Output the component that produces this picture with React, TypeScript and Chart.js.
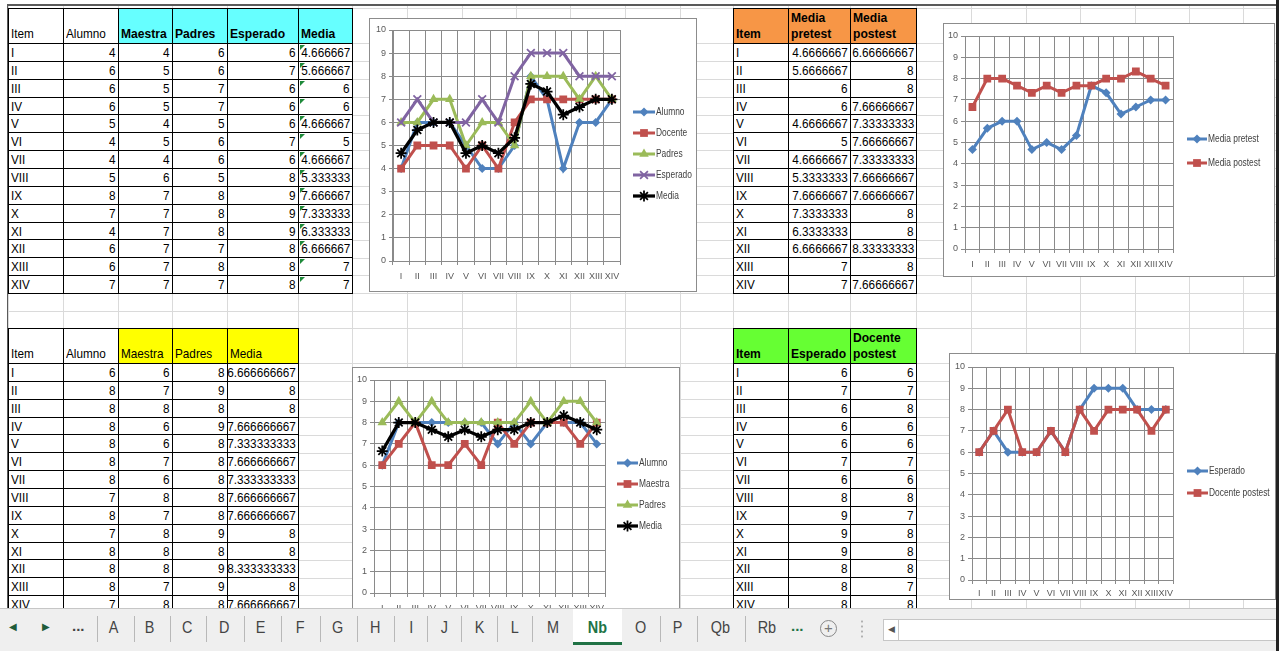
import React, { useEffect, useRef } from 'react';
import { Chart, registerables } from 'chart.js';
Chart.register(...registerables);

// ---------------- DATA ----------------
const items = ['I', 'II', 'III', 'IV', 'V', 'VI', 'VII', 'VIII', 'IX', 'X', 'XI', 'XII', 'XIII', 'XIV'];
const yMin = 0;
const yMax = 10;
const yStep = 1;

// Table 1 (top left) / chart 1
const alumnoA = [4, 6, 6, 6, 5, 4, 4, 5, 8, 7, 4, 6, 6, 7];
const maestraA = [4, 5, 5, 5, 4, 5, 4, 6, 7, 7, 7, 7, 7, 7];
const padresA = [6, 6, 7, 7, 5, 6, 6, 5, 8, 8, 8, 7, 8, 7];
const esperadoA = [6, 7, 6, 6, 6, 7, 6, 8, 9, 9, 9, 8, 8, 8];
const mediaPretest = [4.666666667, 5.666666667, 6, 6, 4.666666667, 5, 4.666666667, 5.333333333, 7.666666667, 7.333333333, 6.333333333, 6.666666667, 7, 7];

// Table 2 (top right) / chart 2
const mediaPostest = [6.666666667, 8, 8, 7.666666667, 7.333333333, 7.666666667, 7.333333333, 7.666666667, 7.666666667, 8, 8, 8.333333333, 8, 7.666666667];

// Table 3 (bottom left) / chart 3
const alumnoB = [6, 8, 8, 8, 8, 8, 8, 7, 8, 7, 8, 8, 8, 7];
const maestraB = [6, 7, 8, 6, 6, 7, 6, 8, 7, 8, 8, 8, 7, 8];
const padresB = [8, 9, 8, 9, 8, 8, 8, 8, 8, 9, 8, 9, 9, 8];
const mediaB = [6.666666667, 8, 8, 7.666666667, 7.333333333, 7.666666667, 7.333333333, 7.666666667, 7.666666667, 8, 8, 8.333333333, 8, 7.666666667];

// Table 4 (bottom right) / chart 4
const esperadoC = [6, 7, 6, 6, 6, 7, 6, 8, 9, 9, 9, 8, 8, 8];
const docentePostest = [6, 7, 8, 6, 6, 7, 6, 8, 7, 8, 8, 8, 7, 8];

// Sheet tabs
const sheetTabs = ['A', 'B', 'C', 'D', 'E', 'F', 'G', 'H', 'I', 'J', 'K', 'L', 'M', 'Nb', 'O', 'P', 'Qb', 'Rb'];
const activeTab = 'Nb';

// ---------------- STYLE ----------------
const BLUE = '#4F81BD';
const RED = '#C0504D';
const GREEN = '#9BBB59';
const PURPLE = '#8064A2';
const BLACK = '#000000';
const FONT = '"Liberation Sans", Arial, sans-serif';
const SQUEEZE = 0.87;

const fmt = (n: number, d: number) => (Number.isInteger(n) ? String(n) : n.toFixed(d));

// layout helpers
const ROW_H = 17.86;
const colLines = [8, 63, 118, 172, 227, 298, 352, 407, 462, 516, 570, 625, 680, 733, 788, 850, 916, 971, 1026, 1080, 1135, 1189, 1243];
const rowLines: number[] = [8];
for (let k = 0; k <= 15; k++) rowLines.push(43.3 + k * ROW_H);
rowLines.push(328);
for (let k = 0; k <= 14; k++) rowLines.push(363.3 + k * ROW_H);

type Pt = 'rectRot' | 'rect' | 'triangle' | 'crossRot' | 'star';
interface Series { label: string; data: number[]; color: string; style: Pt; radius: number; width: number; }

function drawMarker(ctx: CanvasRenderingContext2D, style: Pt, x: number, y: number, r: number, color: string) {
  ctx.save();
  ctx.fillStyle = color;
  ctx.strokeStyle = color;
  ctx.lineWidth = 1.75;
  ctx.beginPath();
  if (style === 'rectRot') {
    ctx.moveTo(x - r, y); ctx.lineTo(x, y - r); ctx.lineTo(x + r, y); ctx.lineTo(x, y + r); ctx.closePath(); ctx.fill();
  } else if (style === 'rect') {
    const s = r * Math.SQRT1_2; ctx.rect(x - s, y - s, 2 * s, 2 * s); ctx.fill();
  } else if (style === 'triangle') {
    let a = 0;
    ctx.moveTo(x + Math.sin(a) * r, y - Math.cos(a) * r);
    a += (2 * Math.PI) / 3; ctx.lineTo(x + Math.sin(a) * r, y - Math.cos(a) * r);
    a += (2 * Math.PI) / 3; ctx.lineTo(x + Math.sin(a) * r, y - Math.cos(a) * r);
    ctx.closePath(); ctx.fill();
  } else {
    const s = r * Math.SQRT1_2;
    ctx.moveTo(x - s, y - s); ctx.lineTo(x + s, y + s);
    ctx.moveTo(x - s, y + s); ctx.lineTo(x + s, y - s);
    if (style === 'star') { ctx.moveTo(x, y - r); ctx.lineTo(x, y + r); }
    ctx.stroke();
  }
  ctx.restore();
}

interface ChartProps {
  left: number; top: number; cw: number; ch: number;
  area: { l: number; t: number; r: number; b: number };
  legend: { x: number; y: number; gap: number; lineW: number };
  series: Series[];
  xPad: number;
}

function LineChart({ left, top, cw, ch, area, legend, series, xPad }: ChartProps) {
  const ref = useRef<HTMLCanvasElement>(null);
  useEffect(() => {
    const legendPlugin = {
      id: 'excelLegend',
      afterDraw(chart: any) {
        const ctx = chart.ctx as CanvasRenderingContext2D;
        series.forEach((s, i) => {
          const y = legend.y + i * legend.gap;
          ctx.save();
          ctx.strokeStyle = s.color;
          ctx.lineWidth = s.width;
          ctx.beginPath();
          ctx.moveTo(legend.x, y);
          ctx.lineTo(legend.x + legend.lineW, y);
          ctx.stroke();
          ctx.restore();
          drawMarker(ctx, s.style, legend.x + legend.lineW / 2, y, s.radius, s.color);
          ctx.save();
          ctx.fillStyle = '#404040';
          ctx.font = `10.5px ${FONT}`;
          ctx.textBaseline = 'middle';
          ctx.translate(legend.x + legend.lineW + 1, y);
          ctx.scale(0.8, 1);
          ctx.fillText(s.label, 0, 0);
          ctx.restore();
        });
      },
    };
    const n = series.length;
    const chart = new Chart(ref.current as HTMLCanvasElement, {
      type: 'line',
      data: {
        labels: items,
        datasets: series.map((s, i) => ({
          label: s.label,
          data: s.data,
          borderColor: s.color,
          backgroundColor: s.color,
          borderWidth: s.width,
          pointStyle: s.style,
          pointRadius: s.radius,
          pointBorderWidth: s.style === 'crossRot' || s.style === 'star' ? 1.75 : 0,
          pointBorderColor: s.color,
          pointBackgroundColor: s.color,
          tension: 0,
          order: n - i,
        })),
      },
      options: {
        animation: false,
        responsive: false,
        maintainAspectRatio: false,
        layout: { padding: { left: 0, top: area.t, right: cw - area.r, bottom: 0 } },
        plugins: { legend: { display: false }, tooltip: { enabled: false } },
        scales: {
          x: {
            offset: true,
            grid: { offset: true, color: '#8a8a8a', lineWidth: 1, tickLength: 4, drawTicks: true },
            border: { color: '#8a8a8a' },
            ticks: { color: '#595959', font: { family: FONT, size: 9 }, padding: xPad, maxRotation: 0, autoSkip: false },
            afterFit: (s: any) => { s.height = ch - area.b; },
          },
          y: {
            min: yMin,
            max: yMax,
            grid: { color: '#8a8a8a', lineWidth: 1, tickLength: 4, drawTicks: true },
            border: { color: '#8a8a8a' },
            ticks: { stepSize: yStep, color: '#595959', font: { family: FONT, size: 9 }, padding: 3 },
            afterFit: (s: any) => { s.width = area.l; },
          },
        },
      },
      plugins: [legendPlugin],
    } as any);
    return () => chart.destroy();
  }, []);
  return (
    <div style={{ position: 'absolute', left, top, width: cw, height: ch, border: '1px solid #8c8c8c', background: '#fff', overflow: 'hidden' }}>
      <canvas ref={ref} width={cw} height={ch} style={{ display: 'block', width: cw, height: ch }} />
    </div>
  );
}

interface ColDef { w: number; head: string[]; bg?: string; bold?: boolean; }

function Sq({ children, origin }: { children: React.ReactNode; origin: string }) {
  return <span style={{ display: 'inline-block', transform: `scaleX(${SQUEEZE})`, transformOrigin: origin, whiteSpace: 'nowrap' }}>{children}</span>;
}

function SheetTable({ x, y, headH, cols, rows, tri }: { x: number; y: number; headH: number; cols: ColDef[]; rows: string[][]; tri?: number }) {
  const xs: number[] = [x];
  cols.forEach((c) => xs.push(xs[xs.length - 1] + c.w));
  const cells: React.ReactNode[] = [];
  cols.forEach((c, ci) => {
    cells.push(
      <div key={'h' + ci} style={{
        position: 'absolute', left: xs[ci], top: y, width: c.w + 1, height: headH + 1, boxSizing: 'border-box',
        border: '1px solid #000', background: c.bg || '#fff', display: 'flex', flexDirection: 'column', justifyContent: 'flex-end', alignItems: 'flex-start',
        padding: '0 0 1px 2px', font: c.bold ? `bold 13px ${FONT}` : `13.5px ${FONT}`, lineHeight: '16px', color: '#000', whiteSpace: 'nowrap', overflow: 'hidden',
      }}>
        {c.head.map((h, i) => (
          <div key={i} style={{ transform: `scaleX(${c.bold ? 0.93 : SQUEEZE})`, transformOrigin: 'left center' }}>{h}</div>
        ))}
      </div>
    );
  });
  rows.forEach((r, ri) => {
    const t0 = Math.round(y + headH + ri * ROW_H);
    const t1 = Math.round(y + headH + (ri + 1) * ROW_H);
    r.forEach((v, ci) => {
      cells.push(
        <div key={ri + '-' + ci} style={{
          position: 'absolute', left: xs[ci], top: t0, width: cols[ci].w + 1, height: t1 - t0 + 1, boxSizing: 'border-box',
          border: '1px solid #000', background: '#fff', display: 'flex', alignItems: 'center', justifyContent: ci === 0 ? 'flex-start' : 'flex-end',
          padding: '0 2px 0 2px', font: `13.5px ${FONT}`, color: '#000', whiteSpace: 'nowrap', overflow: 'hidden',
        }}>
          {tri === ci && <div style={{ position: 'absolute', left: 1, top: 1, width: 0, height: 0, borderTop: '5px solid #1e8a3a', borderRight: '5px solid transparent' }} />}
          <Sq origin={ci === 0 ? 'left center' : 'right center'}>{v}</Sq>
        </div>
      );
    });
  });
  return <>{cells}</>;
}

function TabBar() {
  const centers = [114, 150, 187, 224, 261, 300, 338, 375, 411, 444, 480, 515, 553, 597, 641, 678, 720, 767];
  const seps = [97, 134, 170, 206, 244, 281, 320, 357, 394, 427, 461, 497, 532, 660, 697, 745];
  return (
    <div style={{ position: 'absolute', left: 0, top: 608, width: 1279, height: 43, background: '#efefef', borderTop: '1px solid #c6c6c6', boxSizing: 'border-box', zIndex: 5, font: `17px ${FONT}`, color: '#444' }}>
      <div style={{ position: 'absolute', left: 573, top: 0, width: 49, height: 33, background: '#fff', borderBottom: '3px solid #217346' }} />
      <div style={{ position: 'absolute', left: 9, top: 12, fontSize: 10, color: '#1f5c3a' }}>◀</div>
      <div style={{ position: 'absolute', left: 42, top: 12, fontSize: 10, color: '#1f5c3a' }}>▶</div>
      <div style={{ position: 'absolute', left: 72, top: 8, fontWeight: 'bold', fontSize: 15, color: '#444' }}>...</div>
      {seps.map((s, i) => <div key={'s' + i} style={{ position: 'absolute', left: s, top: 7, width: 1, height: 26, background: '#b8b8b8' }} />)}
      {sheetTabs.map((t, i) => (
        <div key={t} style={{ position: 'absolute', left: centers[i] - 20, width: 40, top: 9, textAlign: 'center', lineHeight: '20px',
          fontWeight: t === activeTab ? 'bold' : 'normal', color: t === activeTab ? '#217346' : '#444' }}>
          <span style={{ display: 'inline-block', transform: 'scaleX(0.85)' }}>{t}</span>
        </div>
      ))}
      <div style={{ position: 'absolute', left: 791, top: 8, fontWeight: 'bold', fontSize: 15, color: '#217346' }}>...</div>
      <div style={{ position: 'absolute', left: 820, top: 11, width: 17, height: 17, borderRadius: '50%', border: '1.5px solid #888', boxSizing: 'border-box', color: '#777', fontSize: 15, lineHeight: '14px', textAlign: 'center' }}>+</div>
      <div style={{ position: 'absolute', left: 861, top: 10, width: 2, height: 20, backgroundImage: 'radial-gradient(circle, #b0b0b0 1px, transparent 1.2px)', backgroundSize: '2px 5px' }} />
      <div style={{ position: 'absolute', left: 883, top: 10, width: 395, height: 22, background: '#fff', border: '1px solid #c6c6c6', boxSizing: 'border-box' }}>
        <div style={{ position: 'absolute', left: 4, top: 4, fontSize: 9, color: '#555' }}>◀</div>
        <div style={{ position: 'absolute', left: 14, top: 0, width: 1, height: 20, background: '#c6c6c6' }} />
      </div>
    </div>
  );
}

export default function App() {
  const t1Rows = items.map((it, i) => [it, String(alumnoA[i]), String(maestraA[i]), String(padresA[i]), String(esperadoA[i]), fmt(mediaPretest[i], 6)]);
  const t2Rows = items.map((it, i) => [it, fmt(mediaPretest[i], 7), fmt(mediaPostest[i], 8)]);
  const t3Rows = items.map((it, i) => [it, String(alumnoB[i]), String(maestraB[i]), String(padresB[i]), fmt(mediaB[i], 9)]);
  const t4Rows = items.map((it, i) => [it, String(esperadoC[i]), String(docentePostest[i])]);
  const CYAN = '#66FFFF';
  const YELLOW = '#FFFF00';
  const ORANGE = '#F79646';
  const LIME = '#66FF33';

  return (
    <div style={{ position: 'absolute', left: 0, top: 0, width: 1279, height: 651, overflow: 'hidden', background: '#fff' }}>
      {/* sheet gridlines */}
      {colLines.map((x, i) => <div key={'c' + i} style={{ position: 'absolute', left: x, top: 5, width: 1, height: 603, background: '#dadada' }} />)}
      {rowLines.map((y, i) => <div key={'r' + i} style={{ position: 'absolute', left: 8, top: Math.round(y), width: 1270, height: 1, background: '#dadada' }} />)}

      <SheetTable x={8} y={8} headH={35} tri={5}
        cols={[
          { w: 55, head: ['Item'] }, { w: 55, head: ['Alumno'] },
          { w: 54, head: ['Maestra'], bg: CYAN, bold: true }, { w: 55, head: ['Padres'], bg: CYAN, bold: true },
          { w: 71, head: ['Esperado'], bg: CYAN, bold: true }, { w: 54, head: ['Media'], bg: CYAN, bold: true },
        ]}
        rows={t1Rows} />
      <SheetTable x={733} y={8} headH={35}
        cols={[
          { w: 55, head: ['Item'], bg: ORANGE, bold: true }, { w: 62, head: ['Media', 'pretest'], bg: ORANGE, bold: true },
          { w: 66, head: ['Media', 'postest'], bg: ORANGE, bold: true },
        ]}
        rows={t2Rows} />
      <SheetTable x={8} y={328} headH={35}
        cols={[
          { w: 55, head: ['Item'] }, { w: 55, head: ['Alumno'] },
          { w: 54, head: ['Maestra'], bg: YELLOW }, { w: 55, head: ['Padres'], bg: YELLOW }, { w: 71, head: ['Media'], bg: YELLOW },
        ]}
        rows={t3Rows} />
      <SheetTable x={733} y={328} headH={35}
        cols={[
          { w: 55, head: ['Item'], bg: LIME, bold: true }, { w: 62, head: ['Esperado'], bg: LIME, bold: true },
          { w: 66, head: ['Docente', 'postest'], bg: LIME, bold: true },
        ]}
        rows={t4Rows} />

      <LineChart left={369} top={18} cw={326} ch={272} xPad={6}
        area={{ l: 23, t: 11, r: 250, b: 242 }}
        legend={{ x: 263, y: 93, gap: 21, lineW: 22 }}
        series={[
          { label: 'Alumno', data: alumnoA, color: BLUE, style: 'rectRot', radius: 4.5, width: 3 },
          { label: 'Docente', data: maestraA, color: RED, style: 'rect', radius: 5.5, width: 3 },
          { label: 'Padres', data: padresA, color: GREEN, style: 'triangle', radius: 5.5, width: 3 },
          { label: 'Esperado', data: esperadoA, color: PURPLE, style: 'crossRot', radius: 5.5, width: 3 },
          { label: 'Media', data: mediaPretest, color: BLACK, style: 'star', radius: 5.5, width: 3.25 },
        ]} />
      <LineChart left={943} top={23} cw={330} ch={252} xPad={6}
        area={{ l: 21, t: 12, r: 229, b: 225 }}
        legend={{ x: 243, y: 115, gap: 24, lineW: 20 }}
        series={[
          { label: 'Media pretest', data: mediaPretest, color: BLUE, style: 'rectRot', radius: 4.5, width: 3 },
          { label: 'Media postest', data: mediaPostest, color: RED, style: 'rect', radius: 5.5, width: 3 },
        ]} />
      <LineChart left={352} top={367} cw={326} ch={255} xPad={6}
        area={{ l: 21, t: 12, r: 252, b: 225 }}
        legend={{ x: 264, y: 95, gap: 21, lineW: 21 }}
        series={[
          { label: 'Alumno', data: alumnoB, color: BLUE, style: 'rectRot', radius: 4.5, width: 3 },
          { label: 'Maestra', data: maestraB, color: RED, style: 'rect', radius: 5.5, width: 3 },
          { label: 'Padres', data: padresB, color: GREEN, style: 'triangle', radius: 5.5, width: 3 },
          { label: 'Media', data: mediaB, color: BLACK, style: 'star', radius: 5.5, width: 3.25 },
        ]} />
      <LineChart left={949} top={353} cw={325} ch={245} xPad={4}
        area={{ l: 22, t: 13, r: 223, b: 226 }}
        legend={{ x: 237, y: 117, gap: 22, lineW: 21 }}
        series={[
          { label: 'Esperado', data: esperadoC, color: BLUE, style: 'rectRot', radius: 4.5, width: 3 },
          { label: 'Docente postest', data: docentePostest, color: RED, style: 'rect', radius: 5.5, width: 3 },
        ]} />

      {/* sheet frame */}
      <div style={{ position: 'absolute', left: 7, top: 4, width: 1272, height: 2, background: '#5a5a5a', zIndex: 4 }} />
      <div style={{ position: 'absolute', left: 7, top: 4, width: 1, height: 604, background: '#5a5a5a', zIndex: 4 }} />
      <TabBar />
      <div style={{ position: 'absolute', left: 1276, top: 0, width: 3, height: 651, background: '#222', zIndex: 6 }} />
    </div>
  );
}
